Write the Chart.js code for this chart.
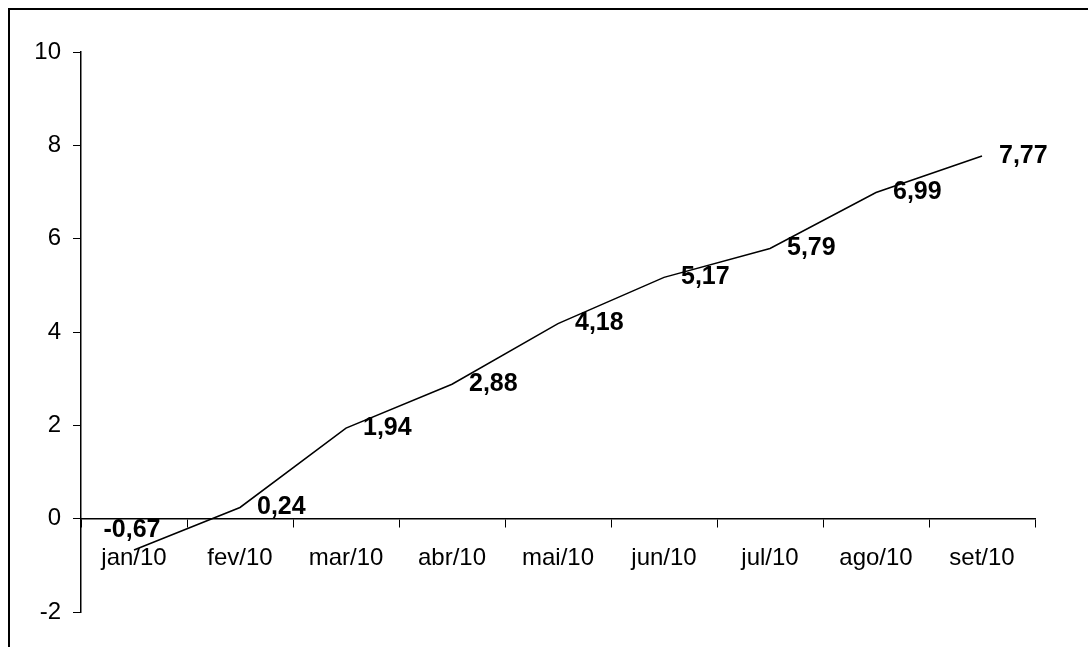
<!DOCTYPE html>
<html>
<head>
<meta charset="utf-8">
<script src="https://cdn.jsdelivr.net/npm/chart.js@4"></script>
<style>
  body { margin: 0; background: #fff; }
  #frame { position: absolute; left: 8px; top: 8px; width: 1090px; height: 700px;
           border-left: 2px solid #000; border-top: 2px solid #000; }
  #wrap { position: absolute; left: 0; top: 0; width: 1088px; height: 647px; }
</style>
</head>
<body>
<div id="frame"></div>
<div id="wrap"><canvas id="mainChart"></canvas></div>
<script>
var months = ['jan/10', 'fev/10', 'mar/10', 'abr/10', 'mai/10', 'jun/10', 'jul/10', 'ago/10', 'set/10'];
var accum = [-0.67, 0.24, 1.94, 2.88, 4.18, 5.17, 5.79, 6.99, 7.77];
var yTicks = [-2, 0, 2, 4, 6, 8, 10];

Chart.defaults.font.family = '"Liberation Sans", Arial, sans-serif';
Chart.defaults.color = '#000';

// value labels next to each point, like the excel "right" position
var valueLabels = {
  id: 'valueLabels',
  afterDatasetsDraw: function(chart) {
    var ctx = chart.ctx;
    var meta = chart.getDatasetMeta(0);
    ctx.save();
    ctx.font = 'bold 25px "Liberation Sans", Arial, sans-serif';
    ctx.fillStyle = '#000';
    ctx.textBaseline = 'middle';
    meta.data.forEach(function(pt, i) {
      var txt = accum[i].toFixed(2).replace('.', ',');
      if (i == 0) {
        ctx.textAlign = 'center';
        ctx.fillText(txt, pt.x - 2, pt.y - 20);
      } else {
        ctx.textAlign = 'left';
        ctx.fillText(txt, pt.x + 17, pt.y);
      }
    });
    ctx.restore();
  }
};

var chart = new Chart(document.getElementById('mainChart'), {
  type: 'line',
  data: {
    labels: months,
    datasets: [{
      data: accum,
      borderColor: '#000',
      backgroundColor: '#000',
      borderWidth: 1.5,
      pointRadius: 0,
      fill: false,
      tension: 0
    }]
  },
  options: {
    responsive: true,
    maintainAspectRatio: false,
    animation: false,
    layout: { padding: { left: 0, top: 52, right: 53, bottom: 35 } },
    plugins: { legend: { display: false }, tooltip: { enabled: false } },
    scales: {
      x: {
        position: { y: 0 },
        offset: true,
        grid: { drawOnChartArea: false, offset: true, tickLength: 8, color: '#000', lineWidth: 1 },
        border: { color: '#000', width: 1.5 },
        ticks: { font: { size: 24 }, padding: 17, maxRotation: 0, autoSkip: false },
        afterFit: function(s) { s.height = 0; }
      },
      y: {
        min: -2,
        max: 10,
        grid: { drawOnChartArea: false, tickLength: 8, color: '#000', lineWidth: 1 },
        border: { color: '#000', width: 1.5 },
        ticks: {
          stepSize: 2,
          font: { size: 24 },
          padding: 12,
          callback: function(v) { return yTicks.indexOf(v) >= 0 ? v : ''; }
        },
        afterFit: function(s) { s.width = 81; }
      }
    }
  },
  plugins: [valueLabels]
});
</script>
</body>
</html>
